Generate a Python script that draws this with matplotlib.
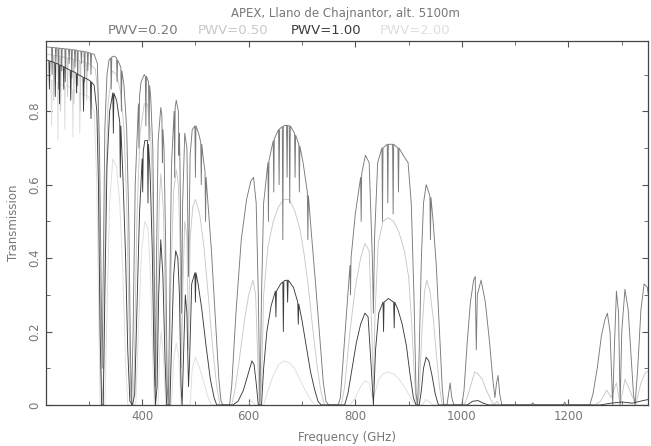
import numpy as np
import matplotlib
matplotlib.use('agg')
import matplotlib.pyplot as plt
from matplotlib.ticker import MultipleLocator

# (frequency GHz, transmission)
pwv020 = [
    (220, 0.975), (230, 0.974), (231, 0.90), (232, 0.974), (237, 0.973), (238, 0.93), (239, 0.973),
    (242, 0.972), (243, 0.86), (244, 0.972), (248, 0.971), (249, 0.91), (250, 0.971),
    (255, 0.970), (256, 0.88), (257, 0.970), (262, 0.969), (263, 0.93), (264, 0.969),
    (267, 0.968), (268, 0.89), (269, 0.968), (273, 0.967), (274, 0.92), (275, 0.967),
    (278, 0.966), (279, 0.87), (280, 0.965), (285, 0.964), (286, 0.93), (287, 0.964),
    (291, 0.963), (292, 0.88), (293, 0.962), (297, 0.961), (298, 0.91), (299, 0.960),
    (303, 0.958), (304, 0.90), (305, 0.957), (310, 0.955), (316, 0.93), (320, 0.70),
    (323, 0.35), (325, 0.10), (327, 0.35), (330, 0.75), (334, 0.90), (338, 0.94),
    (341, 0.945), (342, 0.86), (343, 0.948), (348, 0.95), (352, 0.945), (353, 0.88), (354, 0.94),
    (360, 0.92), (361, 0.80), (362, 0.91), (366, 0.87), (371, 0.75), (375, 0.50), (378, 0.15),
    (380, 0.0), (383, 0.20), (387, 0.60), (393, 0.82), (394, 0.70), (395, 0.84), (398, 0.88),
    (404, 0.90), (406, 0.895), (407, 0.76), (408, 0.895), (412, 0.88), (413, 0.72), (414, 0.87),
    (416, 0.84), (420, 0.70), (423, 0.35), (425, 0.05), (427, 0.40), (430, 0.72), (435, 0.81),
    (437, 0.79), (438, 0.66), (439, 0.75), (441, 0.70), (444, 0.45), (447, 0.05), (449, 0.0),
    (451, 0.20), (455, 0.65), (460, 0.80), (461, 0.62), (462, 0.81), (464, 0.83), (468, 0.80),
    (469, 0.68), (470, 0.74), (471, 0.65), (474, 0.25), (476, 0.55), (480, 0.74), (484, 0.70),
    (487, 0.35), (490, 0.68), (494, 0.75), (499, 0.76), (500, 0.62), (501, 0.76), (506, 0.74),
    (510, 0.715), (511, 0.60), (512, 0.71), (514, 0.68), (518, 0.635), (519, 0.50), (520, 0.62),
    (522, 0.58), (530, 0.42), (538, 0.22), (544, 0.07), (548, 0.01), (552, 0.0), (564, 0.0),
    (568, 0.05), (576, 0.25), (586, 0.45), (596, 0.56), (604, 0.61), (609, 0.62), (614, 0.55),
    (618, 0.30), (621, 0.0), (624, 0.30), (628, 0.55), (636, 0.66), (637, 0.50), (638, 0.665),
    (646, 0.72), (647, 0.58), (648, 0.725), (656, 0.75), (657, 0.60), (658, 0.752), (663, 0.758),
    (664, 0.45), (665, 0.76), (671, 0.762), (672, 0.62), (673, 0.762), (676, 0.76), (677, 0.55),
    (678, 0.76), (686, 0.74), (687, 0.62), (688, 0.735), (694, 0.71), (695, 0.58), (696, 0.705),
    (702, 0.66), (710, 0.58), (711, 0.45), (712, 0.57), (718, 0.46), (726, 0.32), (734, 0.17),
    (740, 0.06), (745, 0.01), (750, 0.0), (768, 0.0), (772, 0.02), (780, 0.18), (790, 0.38),
    (791, 0.30), (792, 0.40), (800, 0.52), (810, 0.62), (811, 0.50), (812, 0.63), (819, 0.68),
    (826, 0.66), (832, 0.40), (834, 0.25), (836, 0.45), (842, 0.66), (850, 0.70), (851, 0.50),
    (852, 0.70), (860, 0.71), (861, 0.55), (862, 0.71), (870, 0.71), (871, 0.52), (872, 0.71),
    (880, 0.70), (881, 0.58), (882, 0.70), (890, 0.68), (899, 0.66), (905, 0.55), (910, 0.30),
    (914, 0.03), (917, 0.0), (920, 0.15), (924, 0.40), (928, 0.55), (933, 0.60), (940, 0.57),
    (941, 0.45), (942, 0.565), (946, 0.50), (952, 0.38), (958, 0.20), (963, 0.05), (966, 0.0),
    (972, 0.0), (976, 0.04), (978, 0.06), (981, 0.02), (985, 0.0), (1000, 0.0), (1004, 0.04),
    (1010, 0.17), (1016, 0.28), (1022, 0.34), (1025, 0.35), (1027, 0.15), (1029, 0.30),
    (1036, 0.34), (1044, 0.28), (1052, 0.17), (1058, 0.07), (1062, 0.02), (1065, 0.06),
    (1068, 0.08), (1071, 0.03), (1075, 0.0), (1130, 0.0), (1133, 0.006), (1136, 0.0),
    (1190, 0.0), (1193, 0.008), (1196, 0.0), (1240, 0.0), (1246, 0.03), (1254, 0.10),
    (1262, 0.19), (1268, 0.23), (1273, 0.25), (1278, 0.20), (1283, 0.0), (1286, 0.15),
    (1290, 0.31), (1294, 0.25), (1297, 0.0), (1300, 0.20), (1306, 0.315), (1312, 0.26),
    (1318, 0.12), (1322, 0.03), (1325, 0.0), (1330, 0.10), (1336, 0.26), (1342, 0.33),
    (1348, 0.32), (1350, 0.30),
]

pwv050 = [
    (220, 0.955), (233, 0.953), (234, 0.83), (235, 0.952), (246, 0.950), (247, 0.80), (248, 0.949),
    (259, 0.946), (260, 0.84), (261, 0.945), (271, 0.942), (272, 0.82), (273, 0.941),
    (283, 0.937), (284, 0.80), (285, 0.936), (295, 0.932), (296, 0.83), (297, 0.931),
    (300, 0.93), (312, 0.915), (317, 0.85), (320, 0.55), (323, 0.10), (325, 0.0), (328, 0.10),
    (331, 0.55), (336, 0.82), (344, 0.91), (352, 0.90), (360, 0.85), (366, 0.75), (371, 0.55),
    (375, 0.25), (378, 0.03), (382, 0.0), (385, 0.08), (390, 0.50), (396, 0.74), (404, 0.82),
    (410, 0.82), (416, 0.74), (420, 0.55), (423, 0.20), (425, 0.0), (428, 0.20), (432, 0.55),
    (435, 0.63), (440, 0.53), (444, 0.22), (447, 0.0), (451, 0.0), (454, 0.35), (459, 0.58),
    (464, 0.64), (468, 0.60), (471, 0.45), (474, 0.10), (476, 0.30), (480, 0.50), (484, 0.46),
    (487, 0.15), (490, 0.45), (495, 0.54), (500, 0.56), (508, 0.52), (516, 0.43), (524, 0.30),
    (532, 0.16), (540, 0.05), (546, 0.0), (568, 0.0), (574, 0.04), (582, 0.12), (592, 0.23),
    (600, 0.30), (608, 0.34), (613, 0.30), (617, 0.12), (620, 0.0), (624, 0.05), (628, 0.30),
    (636, 0.43), (646, 0.50), (656, 0.54), (666, 0.56), (676, 0.56), (686, 0.53), (696, 0.48),
    (704, 0.41), (712, 0.32), (720, 0.21), (728, 0.11), (735, 0.04), (742, 0.0), (774, 0.0),
    (780, 0.05), (790, 0.20), (800, 0.32), (810, 0.40), (818, 0.44), (826, 0.42), (831, 0.20),
    (834, 0.05), (837, 0.25), (843, 0.44), (852, 0.50), (862, 0.51), (872, 0.50), (882, 0.47),
    (892, 0.42), (900, 0.35), (906, 0.22), (911, 0.07), (915, 0.0), (920, 0.03), (925, 0.20),
    (930, 0.31), (934, 0.34), (940, 0.31), (946, 0.24), (952, 0.14), (958, 0.05), (963, 0.0),
    (1004, 0.0), (1010, 0.02), (1018, 0.06), (1024, 0.09), (1030, 0.085), (1038, 0.07),
    (1046, 0.04), (1054, 0.015), (1060, 0.0), (1066, 0.01), (1070, 0.0), (1250, 0.0),
    (1260, 0.01), (1272, 0.04), (1280, 0.02), (1290, 0.06), (1297, 0.0), (1306, 0.07),
    (1318, 0.03), (1326, 0.0), (1336, 0.06), (1345, 0.09), (1350, 0.09),
]

pwv100 = [
    (220, 0.94), (225, 0.938), (226, 0.86), (227, 0.937), (236, 0.932), (237, 0.84), (238, 0.931),
    (240, 0.93), (244, 0.927), (245, 0.82), (246, 0.926), (252, 0.922), (253, 0.86), (254, 0.921),
    (260, 0.915), (265, 0.912), (266, 0.83), (267, 0.911), (276, 0.904), (277, 0.85), (278, 0.903),
    (280, 0.90), (289, 0.893), (290, 0.80), (291, 0.892), (300, 0.885), (303, 0.882), (304, 0.78),
    (305, 0.88), (310, 0.87), (315, 0.80), (318, 0.60), (321, 0.20), (324, 0.0), (327, 0.0),
    (330, 0.30), (334, 0.65), (339, 0.80), (345, 0.85), (346, 0.74), (347, 0.849), (352, 0.83),
    (358, 0.77), (359, 0.62), (360, 0.76), (364, 0.62), (369, 0.40), (373, 0.15), (377, 0.01),
    (382, 0.0), (386, 0.03), (390, 0.25), (395, 0.52), (400, 0.67), (401, 0.58), (402, 0.69),
    (405, 0.72), (410, 0.72), (411, 0.55), (412, 0.71), (415, 0.63), (419, 0.42), (422, 0.15),
    (425, 0.0), (428, 0.05), (431, 0.30), (435, 0.45), (439, 0.35), (443, 0.12), (446, 0.0),
    (452, 0.0), (455, 0.15), (459, 0.35), (463, 0.42), (467, 0.40), (470, 0.30), (473, 0.05),
    (475, 0.0), (477, 0.10), (481, 0.30), (484, 0.25), (487, 0.05), (489, 0.12), (493, 0.33),
    (499, 0.36), (500, 0.28), (501, 0.36), (505, 0.33), (512, 0.26), (520, 0.16), (528, 0.07),
    (535, 0.02), (540, 0.0), (570, 0.0), (580, 0.01), (590, 0.04), (600, 0.09), (606, 0.12),
    (610, 0.11), (614, 0.06), (618, 0.0), (624, 0.0), (628, 0.10), (634, 0.20), (642, 0.27),
    (650, 0.31), (651, 0.24), (652, 0.31), (660, 0.33), (664, 0.335), (665, 0.20), (666, 0.338),
    (672, 0.34), (673, 0.28), (674, 0.34), (684, 0.32), (692, 0.28), (693, 0.22), (694, 0.275),
    (700, 0.23), (708, 0.16), (716, 0.09), (724, 0.04), (730, 0.01), (736, 0.0), (780, 0.0),
    (786, 0.03), (794, 0.10), (802, 0.17), (810, 0.22), (818, 0.25), (824, 0.24), (830, 0.10),
    (834, 0.0), (838, 0.15), (844, 0.25), (852, 0.28), (853, 0.20), (854, 0.28), (862, 0.29),
    (872, 0.28), (873, 0.21), (874, 0.28), (880, 0.26), (888, 0.22), (896, 0.16), (903, 0.08),
    (909, 0.02), (914, 0.0), (920, 0.0), (924, 0.04), (928, 0.10), (933, 0.13), (938, 0.12),
    (944, 0.08), (950, 0.03), (956, 0.0), (1010, 0.0), (1020, 0.01), (1030, 0.012),
    (1040, 0.005), (1050, 0.0), (1260, 0.0), (1280, 0.005), (1300, 0.008), (1320, 0.005),
    (1340, 0.012), (1350, 0.015),
]

pwv200 = [
    (220, 0.89), (229, 0.885), (230, 0.76), (231, 0.884), (241, 0.877), (242, 0.72), (243, 0.876),
    (254, 0.868), (255, 0.75), (256, 0.867), (260, 0.87), (269, 0.858), (270, 0.73),
    (271, 0.857), (282, 0.849), (283, 0.74), (284, 0.848), (300, 0.84), (310, 0.80),
    (315, 0.60), (318, 0.30), (321, 0.0), (330, 0.0), (334, 0.25), (339, 0.55), (345, 0.67),
    (352, 0.65), (358, 0.55), (364, 0.35), (369, 0.12), (373, 0.0), (388, 0.0), (393, 0.20),
    (399, 0.42), (405, 0.50), (411, 0.48), (416, 0.34), (420, 0.12), (423, 0.0), (430, 0.0),
    (433, 0.15), (436, 0.20), (440, 0.13), (444, 0.0), (455, 0.0), (459, 0.12), (464, 0.17),
    (469, 0.13), (473, 0.0), (490, 0.0), (494, 0.10), (500, 0.13), (508, 0.10), (516, 0.06),
    (524, 0.02), (530, 0.0), (596, 0.0), (606, 0.01), (612, 0.0), (628, 0.0), (636, 0.04),
    (646, 0.08), (656, 0.11), (666, 0.12), (676, 0.115), (686, 0.10), (696, 0.07), (706, 0.04),
    (716, 0.015), (724, 0.0), (790, 0.0), (800, 0.02), (810, 0.05), (818, 0.065), (826, 0.06),
    (832, 0.02), (836, 0.03), (844, 0.07), (852, 0.085), (862, 0.09), (872, 0.085), (882, 0.07),
    (892, 0.05), (900, 0.03), (908, 0.01), (914, 0.0), (926, 0.0), (932, 0.015), (938, 0.01),
    (946, 0.0), (1350, 0.0),
]

labels = ['PWV=0.20', 'PWV=0.50', 'PWV=1.00', 'PWV=2.00']
colors = ['#7a7a7a', '#c8c8c8', '#3c3c3c', '#dedede']
curves = [pwv020, pwv050, pwv100, pwv200]

txt = '#777777'
fig = plt.figure(figsize=(6.51, 4.46), dpi=100)
ax = fig.add_axes([0.071, 0.092, 0.925, 0.815])

# light curves first so the dark ones sit on top
for i in [3, 1, 0, 2]:
    f, t = np.array(curves[i]).T
    ax.plot(f, t, color=colors[i], lw=0.65)

ax.set_xlim(220, 1350)
ax.set_ylim(0, 0.99)
ax.xaxis.set_major_locator(MultipleLocator(200))
ax.xaxis.set_minor_locator(MultipleLocator(100))
ax.yaxis.set_major_locator(MultipleLocator(0.2))
ax.yaxis.set_minor_locator(MultipleLocator(0.1))
ax.tick_params(which='both', direction='in', top=True, right=True, color='#555555',
               labelcolor=txt, labelsize=8.5)
ax.tick_params(which='major', length=4)
ax.tick_params(which='minor', length=3)
ax.set_yticks([0, 0.2, 0.4, 0.6, 0.8])
ax.set_yticklabels(['0', '0.2', '0.4', '0.6', '0.8'], rotation=90, va='center')
for s in ax.spines.values():
    s.set_color('#444444')
    s.set_linewidth(0.9)

ax.set_xlabel('Frequency (GHz)', color=txt, fontsize=8.5, labelpad=6)
ax.set_ylabel('Transmission', color=txt, fontsize=8.5, labelpad=6)

fig.text(0.53, 0.97, 'APEX, Llano de Chajnantor, alt. 5100m', color=txt, fontsize=8.5,
         ha='center', va='center')
leg_x = [0.166, 0.304, 0.446, 0.584]
for lab, c, x in zip(labels, colors, leg_x):
    fig.text(x, 0.932, lab, color=c, fontsize=9.5, ha='left', va='center')

plt.savefig('out.png', dpi=100)
